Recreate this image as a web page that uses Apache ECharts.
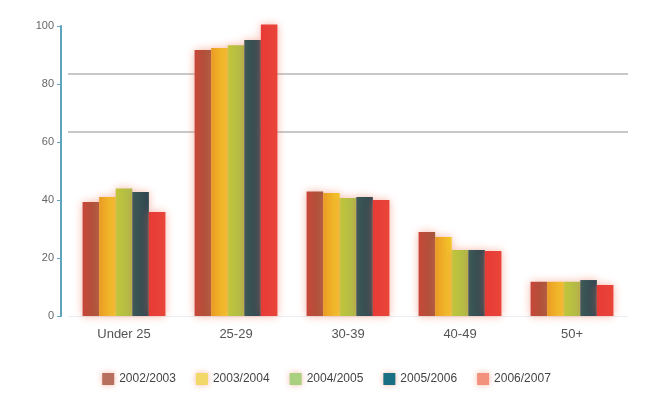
<!DOCTYPE html>
<html>
<head>
<meta charset="utf-8">
<script src="https://cdn.jsdelivr.net/npm/echarts@6/dist/echarts.min.js"></script>
<style>html,body{margin:0;padding:0;background:#fff;}#c{width:653px;height:402px;}</style>
</head>
<body>
<div id="c"></div>
<script>
const categories = ["Under 25", "25-29", "30-39", "40-49", "50+"];
const seriesNames = ["2002/2003", "2003/2004", "2004/2005", "2005/2006", "2006/2007"];
const s1 = [39.3, 91.7, 42.9, 29.0, 11.8];
const s2 = [41.0, 92.4, 42.4, 27.2, 11.8];
const s3 = [44.0, 93.4, 40.7, 22.8, 11.8];
const s4 = [42.8, 95.2, 41.0, 22.8, 12.4];
const s5 = [35.9, 100.5, 40.0, 22.4, 10.7];
const yTicks = ["0", "20", "40", "60", "80", "100"];
const refLines = [63.5, 83.5];

const values = [s1, s2, s3, s4, s5];
const barColors = [
  ["#c9473a", "#a0553a"],
  ["#eb9a25", "#f3c92a"],
  ["#c4c43a", "#a8bc48"],
  ["#3e5a56", "#2f4450"],
  ["#e83a36", "#e8453a"]
];
const legendColors = ["#b8705e", "#f2d868", "#a9d07e", "#1b6f82", "#f2917c"];

const chart = echarts.init(document.getElementById('c'));
chart.setOption({
  backgroundColor: '#fff',
  animation: false,
  grid: { left: 68, right: 25, top: 26, bottom: 86, containLabel: false },
  legend: {
    bottom: 12,
    left: 'center',
    itemWidth: 12,
    itemHeight: 12,
    itemGap: 20,
    icon: 'rect',
    textStyle: { color: '#444', fontSize: 12, fontFamily: 'Liberation Sans' },
    data: seriesNames.map((n, i) => ({ name: n, itemStyle: { color: legendColors[i], shadowColor: 'rgba(240,140,110,0.6)', shadowBlur: 6 } }))
  },
  xAxis: {
    type: 'category',
    data: categories,
    axisLine: { show: true, lineStyle: { color: '#e8eef2' } },
    axisTick: { show: false },
    axisLabel: { color: '#555', fontSize: 13, margin: 12, fontFamily: 'Liberation Sans' }
  },
  yAxis: {
    type: 'value',
    min: 0, max: 100, interval: 20,
    offset: 7,
    axisLine: { show: true, lineStyle: { color: '#5ea3ba', width: 2 } },
    axisTick: { show: true, length: 4, lineStyle: { color: '#5ea3ba' } },
    axisLabel: { color: '#666', fontSize: 11, margin: 7, fontFamily: 'Liberation Sans',
      formatter: (v) => yTicks[Math.round(v / 20)] },
    splitLine: { show: false }
  },
  series: values.map((d, i) => ({
    name: seriesNames[i],
    type: 'bar',
    data: d,
    clip: false,
    barGap: '0%',
    barCategoryGap: '26%',
    z: 2,
    itemStyle: {
      color: new echarts.graphic.LinearGradient(0, 0, 1, 0, [
        { offset: 0, color: barColors[i][0] },
        { offset: 1, color: barColors[i][1] }
      ]),
      shadowColor: 'rgba(240,120,90,0.55)',
      shadowBlur: 8
    },
    markLine: i === 0 ? {
      silent: true,
      symbol: ['none', 'none'],
      label: { show: false },
      z: 1,
      lineStyle: { color: '#c8c8c8', width: 2, type: 'solid' },
      data: refLines.map(v => ({ yAxis: v }))
    } : undefined
  }))
});
</script>
</body>
</html>
